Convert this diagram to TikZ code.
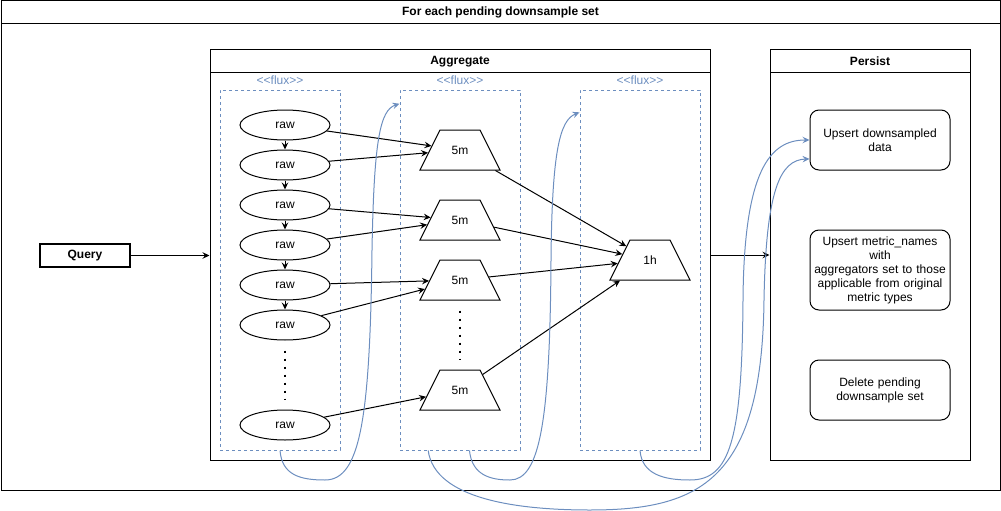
\documentclass[tikz,border=0pt]{standalone}
\usepackage{fontspec}
\setmainfont{Liberation Sans}
\usepackage{xcolor}
\usepackage{tikz}
\usetikzlibrary{shapes.geometric,arrows.meta,positioning}
\definecolor{fluxblue}{HTML}{6C8EBF}
\tikzstyle{lane} = [rectangle, draw = black, line width = 1pt, inner sep = 0pt]
\tikzstyle{lanetitle} = [rectangle, draw = black, line width = 1pt, minimum height = 23pt, anchor = north, inner sep = 0pt, font = \fontsize{12}{14}\selectfont\bfseries]
\tikzstyle{querybox} = [rectangle, draw = black, line width = 1.2pt, minimum width = 90pt, minimum height = 23pt, inner sep = 0pt, font = \fontsize{12}{14}\selectfont\bfseries]
\tikzstyle{flux} = [rectangle, draw = fluxblue, dash pattern = on 3pt off 3pt, minimum width = 120pt, minimum height = 360pt, inner sep = 0pt]
\tikzstyle{fluxlabel} = [text = fluxblue, inner sep = 0pt]
\tikzstyle{rawdata} = [ellipse, draw = black, minimum width = 90pt, minimum height = 30pt, inner sep = 0pt]
\tikzstyle{rollup} = [trapezium, draw = black, trapezium left angle = 63.43, trapezium right angle = 63.43, inner sep = 0pt, text width = 40pt, align = center, text height = 24.3pt, text depth = 15.7pt]
\tikzstyle{process} = [rectangle, rounded corners = 9pt, draw = black, minimum width = 140pt, text width = 140pt, align = center, inner sep = 0pt]
\tikzstyle{ellipsis} = [line width = 2pt, dash pattern = on 2pt off 6pt]
\tikzstyle{arrow} = [->, >={Stealth[length = 7pt, width = 6.5pt, inset = 2.5pt]}]
\tikzstyle{flow} = [arrow, draw = fluxblue, fill = none]

\begin{document}
\begin{tikzpicture}[x = 1pt, y = -1pt, line width = 1pt, node distance = 40pt, font = \fontsize{12}{14}\selectfont]
\useasboundingbox (0,0) rectangle (1001,511);

\node(outer) [lane, minimum width = 999pt, minimum height = 489pt] at (500.5,245.5) {};
\node(outertitle) [lanetitle, minimum width = 999pt] at (outer.north) {For each pending downsample set};
\node(agg) [lane, minimum width = 500pt, minimum height = 410pt] at (460,255) {};
\node(aggtitle) [lanetitle, minimum width = 500pt] at (agg.north) {Aggregate};
\node(persist) [lane, minimum width = 200pt, minimum height = 410pt] at (870,255) {};
\node(persisttitle) [lanetitle, minimum width = 200pt] at (persist.north) {Persist};

\node(query) [querybox] at (85,255.5) {Query};

\node(flux1) [flux] at (280,270) {};
\node(flux2) [flux, right of = flux1, node distance = 180pt] {};
\node(flux3) [flux, right of = flux2, node distance = 180pt] {};
\node(fluxlabel1) [fluxlabel, above = 4pt of flux1] {<{}<flux>{}>};
\node(fluxlabel2) [fluxlabel, above = 4pt of flux2] {<{}<flux>{}>};
\node(fluxlabel3) [fluxlabel, above = 4pt of flux3] {<{}<flux>{}>};

\node(raw1) [rawdata] at (285,125) {raw};
\node(raw2) [rawdata, below of = raw1] {raw};
\node(raw3) [rawdata, below of = raw2] {raw};
\node(raw4) [rawdata, below of = raw3] {raw};
\node(raw5) [rawdata, below of = raw4] {raw};
\node(raw6) [rawdata, below of = raw5] {raw};
\node(raw7) [rawdata, below of = raw6, yshift = -60pt] {raw};

\node(m1) [rollup] at (460,150) {5m};
\node(m2) [rollup, below of = m1, yshift = -30pt] {5m};
\node(m3) [rollup, below of = m2, yshift = -20pt] {5m};
\node(m4) [rollup, below of = m3, yshift = -70pt] {5m};
\node(h1) [rollup] at (650,260) {1h};

\node(upsertdata) [process, minimum height = 60pt] at (880,140) {Upsert downsampled\\data};
\node(upsertnames) [process, minimum height = 80pt] at (880,270) {Upsert metric\_names\\with\\aggregators set to those\\applicable from original\\metric types};
\node(deleteset) [process, minimum height = 60pt] at (880,390) {Delete pending\\downsample set};

\draw [arrow] (query) -- (query -| agg.west);
\draw [arrow] (agg) -- (persist);

\draw [arrow] (raw1) -- (raw2);
\draw [arrow] (raw2) -- (raw3);
\draw [arrow] (raw3) -- (raw4);
\draw [arrow] (raw4) -- (raw5);
\draw [arrow] (raw5) -- (raw6);
\draw [ellipsis] ([yshift = -10pt]raw6.south) -- ([yshift = 10pt]raw7.north);
\draw [ellipsis] ([yshift = -10pt]m3.south) -- ([yshift = 10pt]m4.north);

\draw [arrow] (raw1) -- (m1);
\draw [arrow] (raw2) -- (m1);
\draw [arrow] (raw3) -- (m2);
\draw [arrow] (raw4) -- (m2);
\draw [arrow] (raw5) -- (m3);
\draw [arrow] (raw6) -- (m3);
\draw [arrow] (raw7) -- (m4);
\draw [arrow] (m1) -- (h1);
\draw [arrow] (m2) -- (h1);
\draw [arrow] (m3) -- (h1);
\draw [arrow] (m4) -- (h1);

\draw [flow] (flux1.south) .. controls (282,475) and (300,480) .. (325,480) .. controls (360,480) and (370,420) .. (372,250) .. controls (374,140) and (380,110) .. (flux2.110.56);
\draw [flow] (flux2.273.18) .. controls (472,475) and (490,480) .. (510,480) .. controls (540,480) and (550,420) .. (551,260) .. controls (552,150) and (560,120) .. (flux3.111.8);
\draw [flow] (flux3.south) .. controls (642,475) and (665,480) .. (690,480) .. controls (730,480) and (742,440) .. (743,300) .. controls (744,170) and (770,140) .. (upsertdata.west);
\draw [flow] (flux2.260.54) .. controls (435,500) and (520,510) .. (590,510) .. controls (700,510) and (762,480) .. (764,300) .. controls (766,190) and (780,160) .. (upsertdata.195.95);

\end{tikzpicture}
\end{document}
